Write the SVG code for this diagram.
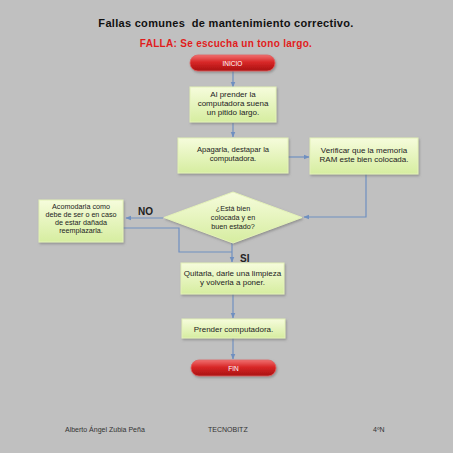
<svg xmlns="http://www.w3.org/2000/svg" width="453" height="453" viewBox="0 0 453 453">
<defs>
<linearGradient id="gBox" x1="0" y1="0" x2="0" y2="1">
<stop offset="0" stop-color="#f6fcdc"/>
<stop offset="1" stop-color="#d6eda0"/>
</linearGradient>
<linearGradient id="gRed" x1="0" y1="0" x2="0" y2="1">
<stop offset="0" stop-color="#f07070"/>
<stop offset="0.45" stop-color="#d82828"/>
<stop offset="1" stop-color="#a81010"/>
</linearGradient>
<marker id="arr" viewBox="0 0 10 10" refX="9" refY="5" markerWidth="5" markerHeight="5" orient="auto">
<path d="M0,1 L10,5 L0,9 z" fill="#6f8fc0"/>
</marker>
<filter id="sh" x="-10%" y="-10%" width="130%" height="140%">
<feDropShadow dx="1" dy="1.5" stdDeviation="1" flood-color="#707070" flood-opacity="0.6"/>
</filter>
</defs>
<style>
.box{fill:url(#gBox);stroke:#e4f2b8;stroke-width:1;filter:url(#sh)}
.pill{fill:url(#gRed);stroke:#e06060;stroke-width:0.8;filter:url(#sh)}
.t{font-family:"Liberation Sans",Arial,sans-serif;font-size:7.2px;fill:#222;text-anchor:middle}
.t8{font-size:8px}
.t76{font-size:7.6px}
.pt{font-family:"Liberation Sans",Arial,sans-serif;font-size:6.5px;fill:#fff;text-anchor:middle}
.c{fill:none;stroke:#6f8fc0;stroke-width:1.2}
.lbl{font-family:"Liberation Sans",Arial,sans-serif;font-size:10px;font-weight:bold;fill:#222}
.foot{font-family:"Liberation Sans",Arial,sans-serif;font-size:7px;fill:#333}
</style>
<rect width="453" height="453" fill="#c0c0c0"/>
<text x="226" y="27" font-family="Liberation Sans,Arial,sans-serif" font-size="11px" font-weight="bold" letter-spacing="0.3" fill="#111" text-anchor="middle" xml:space="preserve">Fallas comunes  de mantenimiento correctivo.</text>
<text x="226" y="47" font-family="Liberation Sans,Arial,sans-serif" font-size="10px" font-weight="bold" letter-spacing="0.3" fill="#e01c1c" text-anchor="middle">FALLA: Se escucha un tono largo.</text>

<g id="connectors">
<line class="c" x1="233" y1="71" x2="233" y2="87" marker-end="url(#arr)"/>
<line class="c" x1="233" y1="123" x2="233" y2="137" marker-end="url(#arr)"/>
<line class="c" x1="288" y1="157" x2="309" y2="157" marker-end="url(#arr)"/>
<polyline class="c" points="366,174 366,217 304,217" marker-end="url(#arr)"/>
<line class="c" x1="163" y1="218" x2="126" y2="218" marker-end="url(#arr)"/>
<polyline class="c" points="123,228 179,228 179,252 232,252"/>
<line class="c" x1="232" y1="243" x2="232" y2="262" marker-end="url(#arr)"/>
<line class="c" x1="233" y1="294" x2="233" y2="318" marker-end="url(#arr)"/>
<line class="c" x1="233" y1="338" x2="233" y2="359" marker-end="url(#arr)"/>
</g>

<g id="inicio">
<rect class="pill" x="190" y="55" width="85" height="16" rx="8"/>
<text class="pt" x="232.5" y="65.5">INICIO</text>
</g>
<g id="n1">
<rect class="box" x="190" y="87" width="86" height="35"/>
<text class="t t8" x="233" y="97">Al prender la</text>
<text class="t t8" x="233" y="106">computadora suena</text>
<text class="t t8" x="233" y="115">un pitido largo.</text>
</g>
<g id="n2">
<rect class="box" x="178" y="138" width="110" height="35"/>
<text class="t t76" x="233" y="152">Apagarla, destapar la</text>
<text class="t t76" x="233" y="161">computadora.</text>
</g>
<g id="n3">
<rect class="box" x="310" y="138" width="108" height="36"/>
<text class="t t8" x="364" y="152.5">Verificar que la memoria</text>
<text class="t t8" x="364" y="161.5">RAM este bien colocada.</text>
</g>
<g id="decision">
<polygon class="box" points="233,192 302,217.5 233,243 164,217.5"/>
<text class="t" x="233" y="211">¿Está bien</text>
<text class="t" x="233" y="220">colocada y en</text>
<text class="t" x="233" y="229">buen estado?</text>
</g>
<g id="n4">
<rect class="box" x="39" y="200" width="84" height="42"/>
<text class="t" x="81" y="208.5">Acomodarla como</text>
<text class="t" x="81" y="216.5">debe de ser o en caso</text>
<text class="t" x="81" y="224.5">de estar dañada</text>
<text class="t" x="81" y="232.5">reemplazarla.</text>
</g>
<text class="lbl" x="138" y="215">NO</text>
<text class="lbl" x="240" y="262">SI</text>
<g id="n5">
<rect class="box" x="181" y="263" width="103" height="31"/>
<text class="t t8" x="232.5" y="275.5">Quitarla, darle una limpieza</text>
<text class="t t8" x="232.5" y="284.5">y volverla a poner.</text>
</g>
<g id="n6">
<rect class="box" x="182" y="319" width="103" height="19"/>
<text class="t t8" x="233.5" y="331.5">Prender computadora.</text>
</g>
<g id="fin">
<rect class="pill" x="191" y="360" width="85" height="16" rx="8"/>
<text class="pt" x="233.5" y="370.5">FIN</text>
</g>
<text class="foot" x="65" y="432">Alberto Ángel Zubia Peña</text>
<text class="foot" x="208" y="432">TECNOBITZ</text>
<text class="foot" x="373" y="432">4ºN</text>
</svg>
